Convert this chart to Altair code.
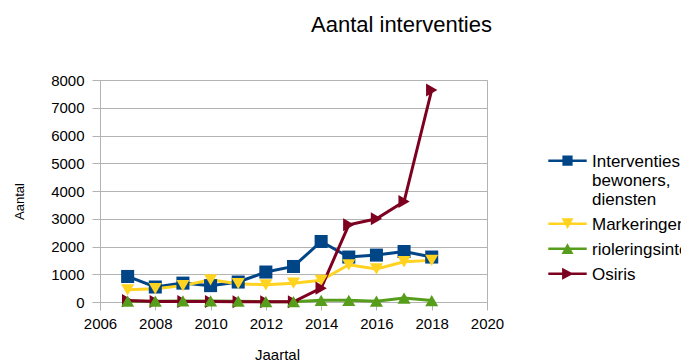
import altair as alt
import pandas as pd

years = list(range(2007, 2019))
series_names = ["Interventies bewoners, diensten", "Markeringen", "rioleringsinterventies", "Osiris"]
interventies = [920, 540, 680, 590, 720, 1080, 1280, 2180, 1620, 1690, 1820, 1620]
markeringen = [440, 480, 590, 800, 660, 620, 680, 780, 1340, 1190, 1450, 1500]
riolering = [30, 30, 40, 40, 30, 10, 10, 60, 60, 30, 140, 50]
osiris = [50, 20, 20, 20, 10, 10, 10, 500, 2780, 3000, 3620, 7640]

colors = ["#004586", "#ffd320", "#579d1c", "#7e0021"]
shapes = ["square", "triangle-down", "triangle-up", "triangle-right"]
# legend symbols: a line with the series marker on it (unit = 6 px, shifted down ~1.2 units)
line_part = "M-3.2,1.0H3.2V1.4H-3.2Z "
legend_paths = [
    line_part + "M-0.85,0.35H0.85V2.05H-0.85Z",
    line_part + "M-1,0.3L1,0.3L0,2.1Z",
    line_part + "M1,2.1L-1,2.1L0,0.3Z",
    line_part + "M-0.9,0.2L1,1.2L-0.9,2.2Z",
]
x_ticks = [2006, 2008, 2010, 2012, 2014, 2016, 2018, 2020]
y_ticks = [0, 1000, 2000, 3000, 4000, 5000, 6000, 7000, 8000]

values_by_series = [interventies, markeringen, riolering, osiris]
rows = []
for name, vals in zip(series_names, values_by_series):
    for yr, v in zip(years, vals):
        rows.append({"jaar": yr, "serie": name, "aantal": v})
df = pd.DataFrame(rows)

# point draw order: keep green triangles on top of the Osiris markers
point_order = [series_names[0], series_names[1], series_names[3], series_names[2]]
df_points = pd.concat([df[df.serie == s] for s in point_order])

FONT = "Liberation Sans"
GRID = "#b3b3b3"

x_enc = alt.X(
    "jaar:Q",
    scale=alt.Scale(domain=[2006, 2020], nice=False, zero=False),
    axis=alt.Axis(
        values=x_ticks, format="d", grid=False, labelFlush=False,
        labelFontSize=15, labelFont=FONT, labelColor="black",
        tickSize=8, labelPadding=6, tickColor=GRID, domainColor=GRID,
        title="Jaartal", titleFont=FONT, titleFontSize=15, titleFontWeight="normal",
        titleColor="black", titleX=177, titleY=45, titleBaseline="top", titleAlign="center",
    ),
)
y_enc = alt.Y(
    "aantal:Q",
    scale=alt.Scale(domain=[0, 8000], nice=False),
    axis=alt.Axis(
        values=y_ticks, format="d", grid=True, gridColor=GRID, domainColor=GRID, tickColor=GRID,
        tickSize=8, labelPadding=8, labelFontSize=15, labelFont=FONT, labelColor="black",
        title="Aantal", titleFont=FONT, titleFontSize=13, titleFontWeight="normal",
        titleColor="black", titleX=-81, titleY=121, titleAngle=270,
        titleBaseline="middle", titleAlign="center",
    ),
)
color_scale = alt.Scale(domain=series_names, range=colors)


def make_legend():
    return alt.Legend(
        title=None, orient="none", legendX=459, legendY=65, rowPadding=0,
        symbolSize=144, symbolStrokeWidth=0, symbolOpacity=1,
        labelFont=FONT, labelFontSize=17, labelColor="black", labelOffset=16,
        labelLimit=400, labelBaseline="top",
        labelExpr="datum.label == 'Interventies bewoners, diensten' ? split(datum.label, ' ') : datum.label",
    )


lines = alt.Chart(df).mark_line(strokeWidth=3).encode(
    x=x_enc, y=y_enc,
    color=alt.Color("serie:N", scale=color_scale, legend=None),
)

points = alt.Chart(df_points).mark_point(filled=True, size=170, opacity=1, strokeWidth=0).encode(
    x=x_enc, y=y_enc,
    color=alt.Color("serie:N", scale=color_scale, legend=None),
    shape=alt.Shape("serie:N", scale=alt.Scale(domain=series_names, range=shapes), legend=None),
)

legend_layer = alt.Chart(df).mark_point(filled=True, opacity=0).encode(
    x=x_enc, y=y_enc,
    color=alt.Color("serie:N", scale=color_scale, legend=make_legend()),
    shape=alt.Shape(
        "serie:N",
        scale=alt.Scale(domain=series_names, range=legend_paths),
        legend=make_legend(),
    ),
)

chart = (
    alt.layer(lines, points, legend_layer)
    .resolve_scale(shape="independent", color="independent")
    .properties(
        width=387, height=222,
        autosize=alt.AutoSizeParams(type="none"),
        padding={"left": 100, "top": 80, "right": 194, "bottom": 58},
        title=alt.TitleParams(
            "Aantal interventies", font=FONT, fontSize=22, fontWeight="normal", color="black",
            anchor="middle", frame="group", dx=108, offset=19, baseline="alphabetic",
        ),
        background="white",
    )
    .configure_view(stroke=GRID, strokeWidth=1)
)

chart.save("out.html", embed_options={"renderer": "svg", "actions": False})
